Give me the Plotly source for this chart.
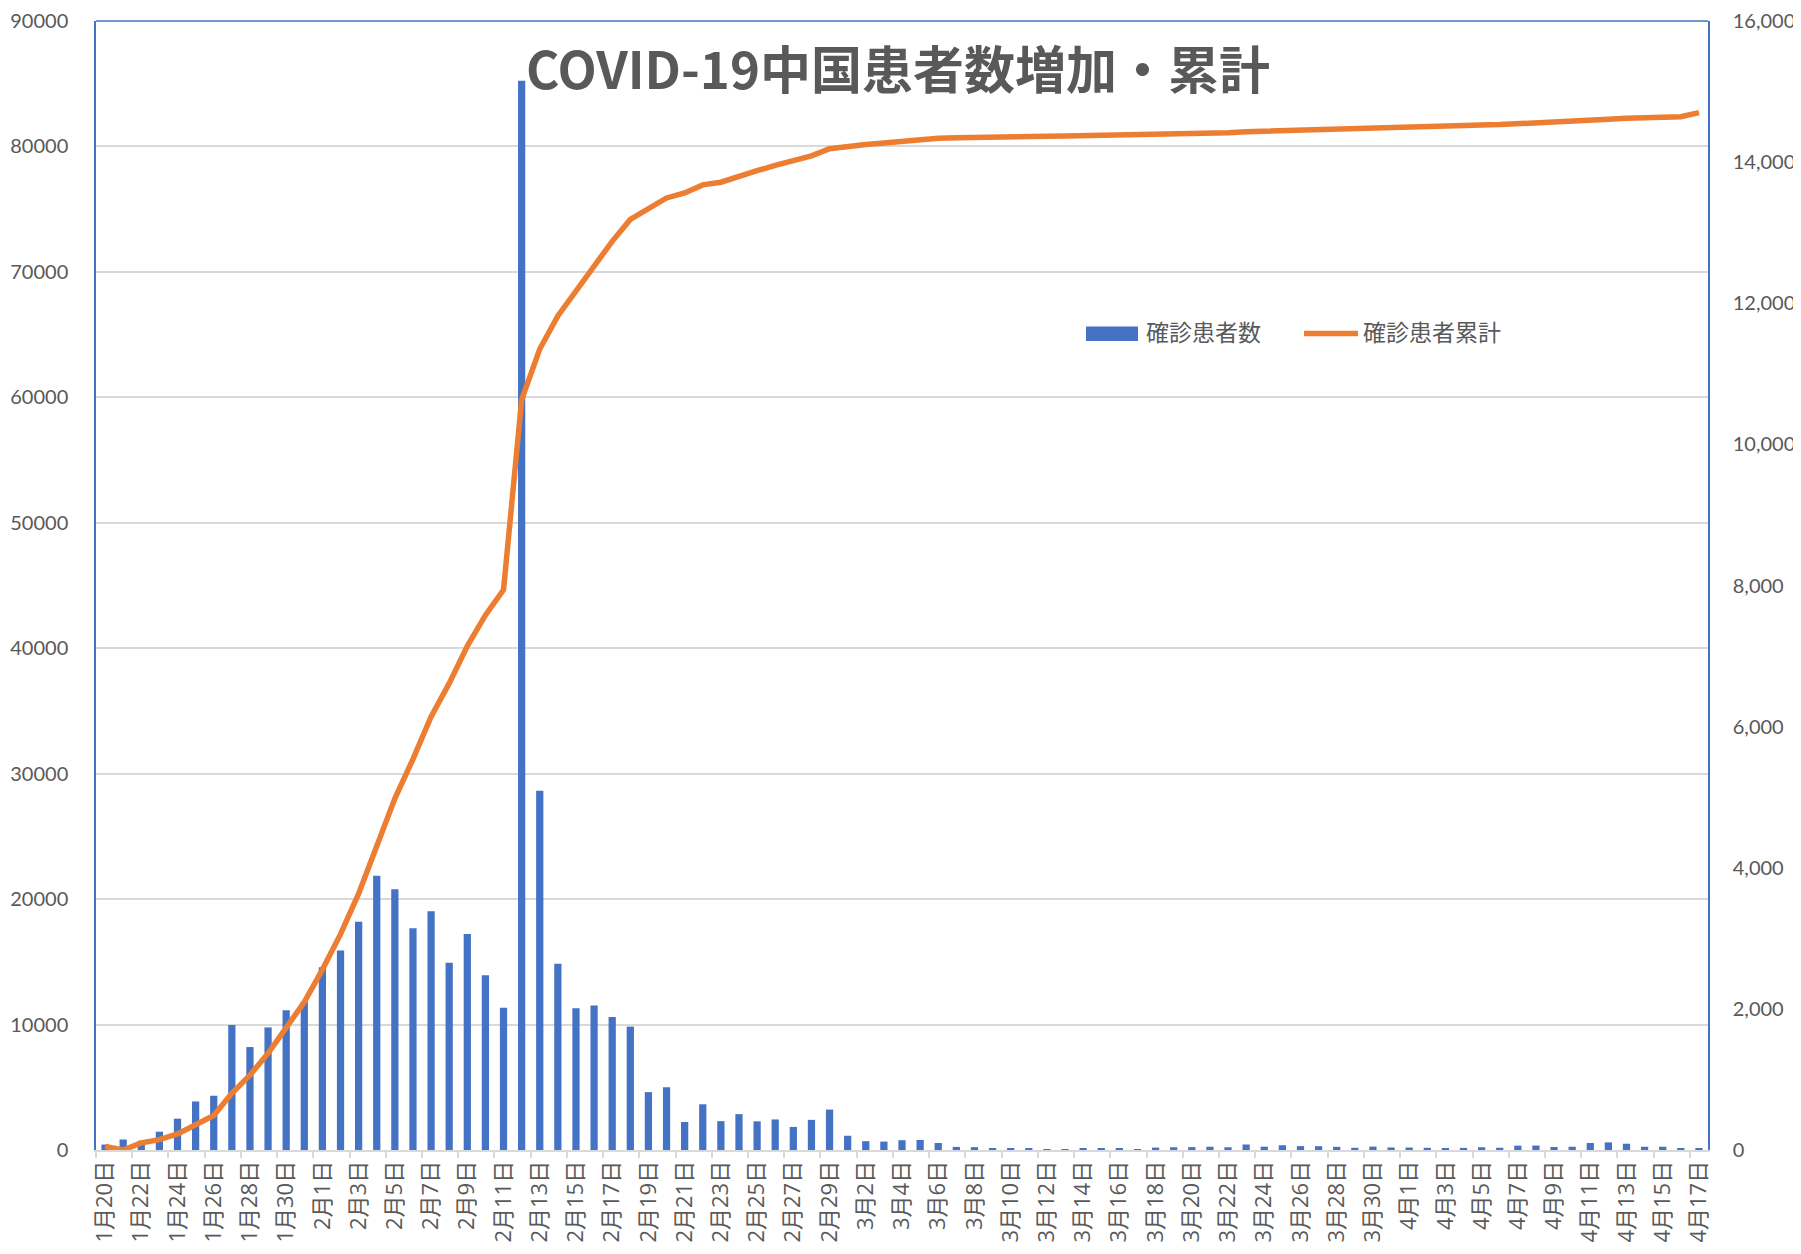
import plotly.graph_objects as go

# ---- data ----
months_days = [(1, d) for d in range(20, 32)] + [(2, d) for d in range(1, 30)] + \
              [(3, d) for d in range(1, 32)] + [(4, d) for d in range(1, 18)]
dates = [f"{m}月{d}日" for m, d in months_days]

new_cases = [
    77, 149, 131, 259, 444, 688, 769, 1771, 1459, 1737, 1982, 2102,          # 1/20-1/31
    2590, 2829, 3235, 3887, 3694, 3143, 3385, 2652, 3062, 2478, 2015, 15152,  # 2/1-2/12
    5090, 2641, 2009, 2048, 1886, 1749, 820, 889, 397, 648, 409, 508,         # 2/13-2/24
    406, 433, 327, 427, 573,                                                  # 2/25-2/29
    202, 125, 119, 139, 143, 99, 44, 40, 19, 24, 15, 8, 11, 20, 16, 21,       # 3/1-3/16
    13, 34, 39, 41, 46, 39, 78, 47, 67, 55, 54, 45, 31, 48, 36,               # 3/17-3/31
    35, 31, 19, 30, 39, 32, 62, 63, 42, 46, 99, 108, 89, 46, 46, 26, 27       # 4/1-4/17
]

cumulative = [
    291, 0, 571, 830, 1287, 1975, 2744, 4515, 5974, 7711, 9692, 11791,
    14380, 17205, 20438, 24324, 28018, 31161, 34546, 37198, 40171, 42638, 44653, 59804,
    63851, 66492, 68500, 70548, 72436, 74185, 75005, 75894, 76288, 76936, 77150, 77658,
    78064, 78497, 78824, 79251, 79824,
    80026, 80151, 80270, 80409, 80552, 80651, 80695, 80735, 80754, 80778, 80793, 80813,
    80824, 80844, 80860, 80881,
    80894, 80928, 80967, 81008, 81054, 81093, 81171, 81218, 81285, 81340, 81394, 81439,
    81470, 81518, 81554,
    81589, 81620, 81639, 81669, 81708, 81740, 81802, 81865, 81907, 81953, 82052, 82160,
    82249, 82295, 82341, 82367, 82692
]

title_text = "COVID-19中国患者数増加・累計"
bar_name = "確診患者数"
line_name = "確診患者累計"

# ---- style ----
BLUE = "#4472C4"
ORANGE = "#ED7D31"
GRAY_TXT = "#595959"
GRID = "#D9D9D9"
OFF = 8                      # default page body margin
W, H = 1793, 1246
L, T = 88, 13
PW, PH = 1612, 1129
R, B = W - L - PW, H - T - PH

def px(x):  # absolute page x -> paper
    return (x - OFF - L) / PW

def py(y):  # absolute page y -> paper
    return (T + PH - (y - OFF)) / PH

fig = go.Figure()
fig.add_trace(go.Bar(x=dates, y=new_cases, name=bar_name, marker_color=BLUE,
                     marker_line_width=0, yaxis="y"))
fig.add_trace(go.Scatter(x=dates, y=cumulative, name=line_name, mode="lines",
                         line=dict(color=ORANGE, width=5.5), yaxis="y2"))

tickfont = dict(family="Lato", size=20, color=GRAY_TXT)

fig.update_layout(
    width=W, height=H,
    margin=dict(l=L, r=R, t=T, b=B, autoexpand=False),
    paper_bgcolor="white", plot_bgcolor="white",
    showlegend=False,
    bargap=0.6,
    xaxis=dict(type="category", tickmode="linear", tick0=0, dtick=2,
               tickson="boundaries", ticks="outside", ticklen=6, tickwidth=1.5,
               tickcolor=GRID, showline=True, linecolor=GRID, linewidth=2,
               showgrid=False, tickangle=-90, automargin=False,
               tickfont=dict(family="Open Sans, Noto Sans CJK JP", size=22,
                             color=GRAY_TXT)),
    yaxis=dict(side="right", range=[0, 16000], dtick=2000, tickformat=",d",
               showgrid=False, zeroline=False, showline=True, linecolor=BLUE,
               linewidth=1.5, ticks="outside", ticklen=19,
               tickcolor="rgba(0,0,0,0)", tickfont=tickfont, automargin=False,
               ticklabeloverflow="allow"),
    yaxis2=dict(side="left", overlaying="y", range=[0, 90000], dtick=10000,
                tickformat="d", showgrid=True, gridcolor=GRID, gridwidth=1.5,
                zeroline=False, showline=True, linecolor=BLUE, linewidth=1.5,
                ticks="outside", ticklen=22, tickcolor="rgba(0,0,0,0)",
                tickfont=tickfont, automargin=False, ticklabeloverflow="allow"),
)

# top border of plot area
fig.add_shape(type="line", xref="paper", yref="paper", x0=0, x1=1, y0=1, y1=1,
              line=dict(color=BLUE, width=1.5))

# title inside plot
fig.add_annotation(text=title_text, xref="paper", yref="paper",
                   x=px(898), y=py(67), xanchor="center", yanchor="middle",
                   showarrow=False,
                   font=dict(family="Noto Sans CJK JP", size=51, color=GRAY_TXT,
                             weight="bold"))

# manual legend
fig.add_shape(type="rect", xref="paper", yref="paper",
              x0=px(1086), x1=px(1138), y0=py(341), y1=py(326.5),
              fillcolor=BLUE, line=dict(width=0))
fig.add_annotation(text=bar_name, xref="paper", yref="paper",
                   x=px(1144), y=py(331), xanchor="left", yanchor="middle",
                   showarrow=False,
                   font=dict(family="Noto Sans CJK JP", size=23, color=GRAY_TXT))
fig.add_shape(type="line", xref="paper", yref="paper",
              x0=px(1304), x1=px(1358), y0=py(333.5), y1=py(333.5),
              line=dict(color=ORANGE, width=5.5))
fig.add_annotation(text=line_name, xref="paper", yref="paper",
                   x=px(1361), y=py(331), xanchor="left", yanchor="middle",
                   showarrow=False,
                   font=dict(family="Noto Sans CJK JP", size=23, color=GRAY_TXT))

fig.write_html("out.html")
